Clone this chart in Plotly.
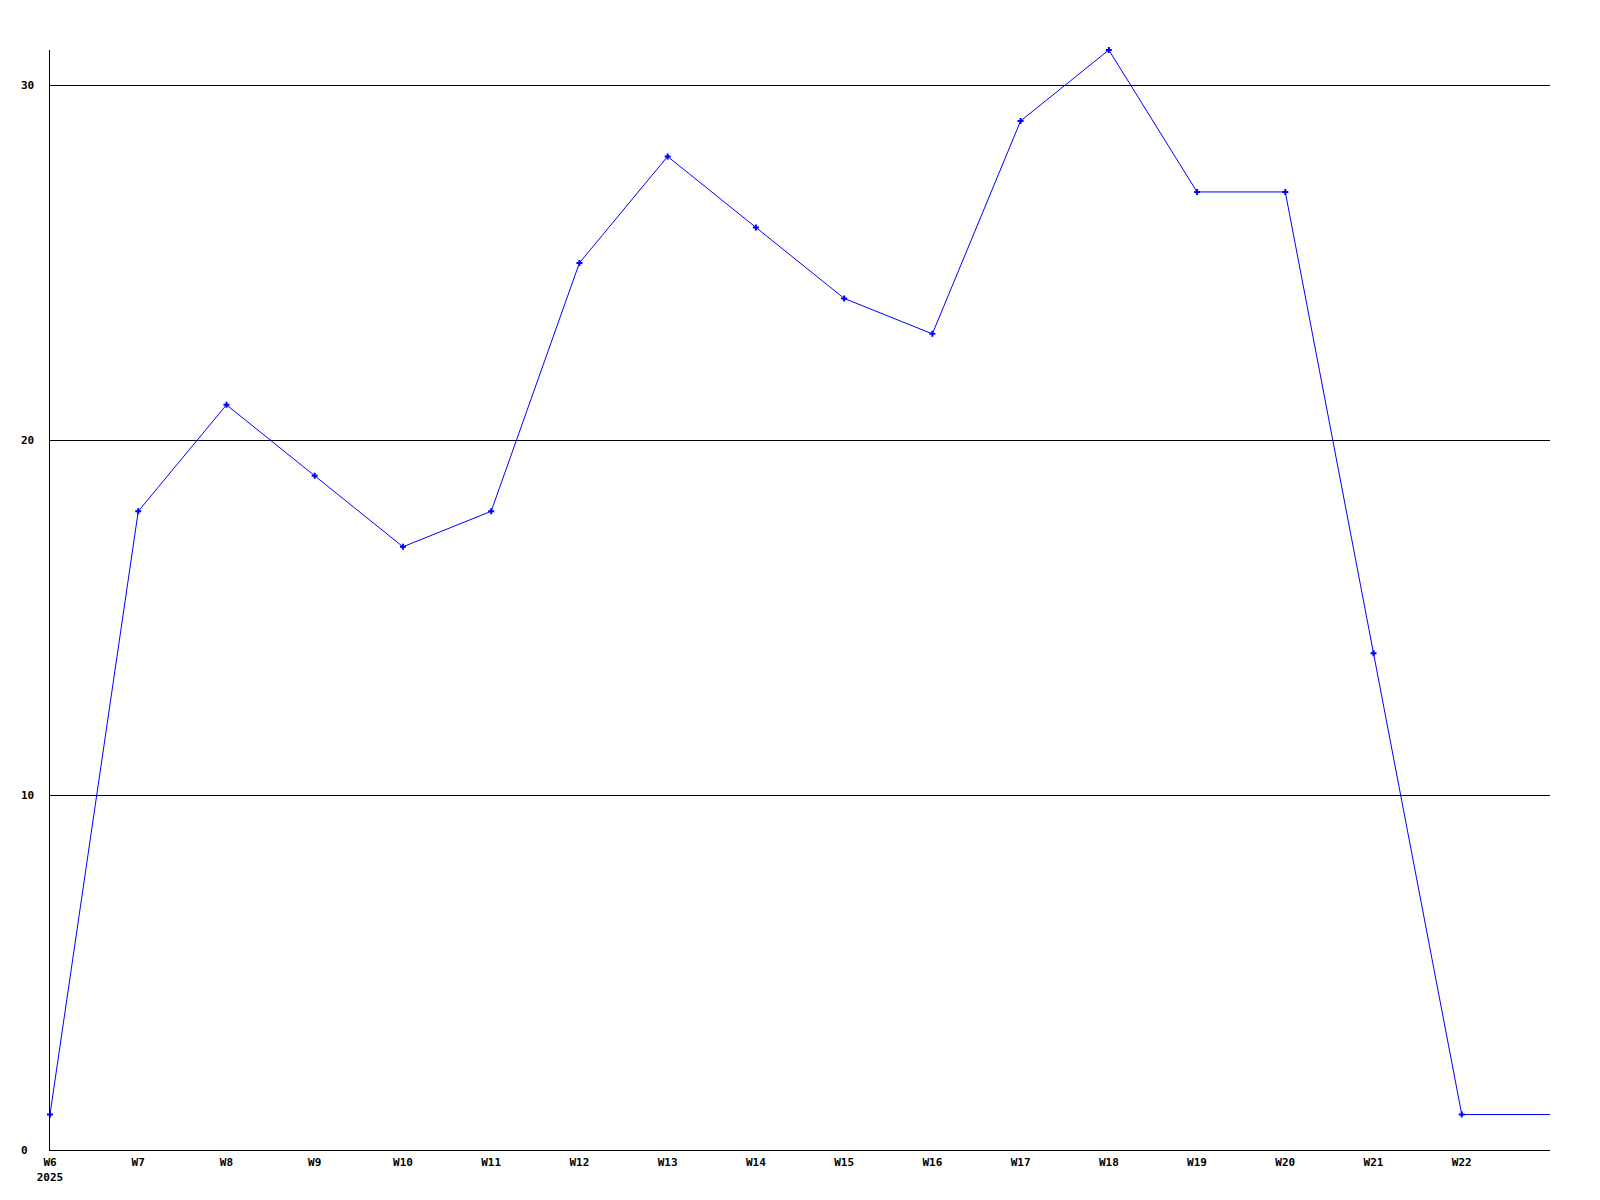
import plotly.graph_objects as go

weeks = [6, 7, 8, 9, 10, 11, 12, 13, 14, 15, 16, 17, 18, 19, 20, 21, 22, 23]
values = [1, 18, 21, 19, 17, 18, 25, 28, 26, 24, 23, 29, 31, 27, 27, 14, 1, 1]
x_tick_vals = [6, 7, 8, 9, 10, 11, 12, 13, 14, 15, 16, 17, 18, 19, 20, 21, 22]
x_tick_text = ["W6<br>2025", "W7", "W8", "W9", "W10", "W11", "W12", "W13", "W14",
               "W15", "W16", "W17", "W18", "W19", "W20", "W21", "W22"]
y_tick_vals = [0, 10, 20, 30]
y_tick_text = ["0", "10", "20", "30"]
marker_weeks = weeks[:-1]
marker_values = values[:-1]

FONT = dict(family="DejaVu Sans Mono", size=11, color="black", weight="bold")

fig = go.Figure()
fig.add_trace(go.Scatter(
    x=weeks, y=values, mode="lines",
    line=dict(color="#0000ff", width=1),
    cliponaxis=False, hoverinfo="skip",
))
fig.add_trace(go.Scatter(
    x=marker_weeks, y=marker_values, mode="markers",
    marker=dict(color="#0000ff", size=5, symbol="cross", line=dict(width=0)),
    cliponaxis=False, hoverinfo="skip",
))

annotations = []
for v, t in zip(y_tick_vals, y_tick_text):
    annotations.append(dict(
        x=0, xref="paper", y=v, yref="y", text=t, showarrow=False,
        xanchor="left", yanchor="middle", xshift=-31, font=FONT,
    ))

fig.update_layout(
    width=1600, height=1200,
    margin=dict(l=42, r=58, t=42, b=58),
    plot_bgcolor="white", paper_bgcolor="white",
    showlegend=False,
    annotations=annotations,
    font=FONT,
    xaxis=dict(
        range=[6, 23], tickvals=x_tick_vals, ticktext=x_tick_text,
        showgrid=False, zeroline=False, showline=True, linecolor="black",
        linewidth=1, ticks="", tickfont=FONT, ticklabelstandoff=2,
    ),
    yaxis=dict(
        range=[0, 31], tickvals=y_tick_vals, showticklabels=False,
        showgrid=True, gridcolor="black", gridwidth=1, zeroline=False,
        showline=True, linecolor="black", linewidth=1, ticks="",
    ),
)

fig.write_html("out.html")
